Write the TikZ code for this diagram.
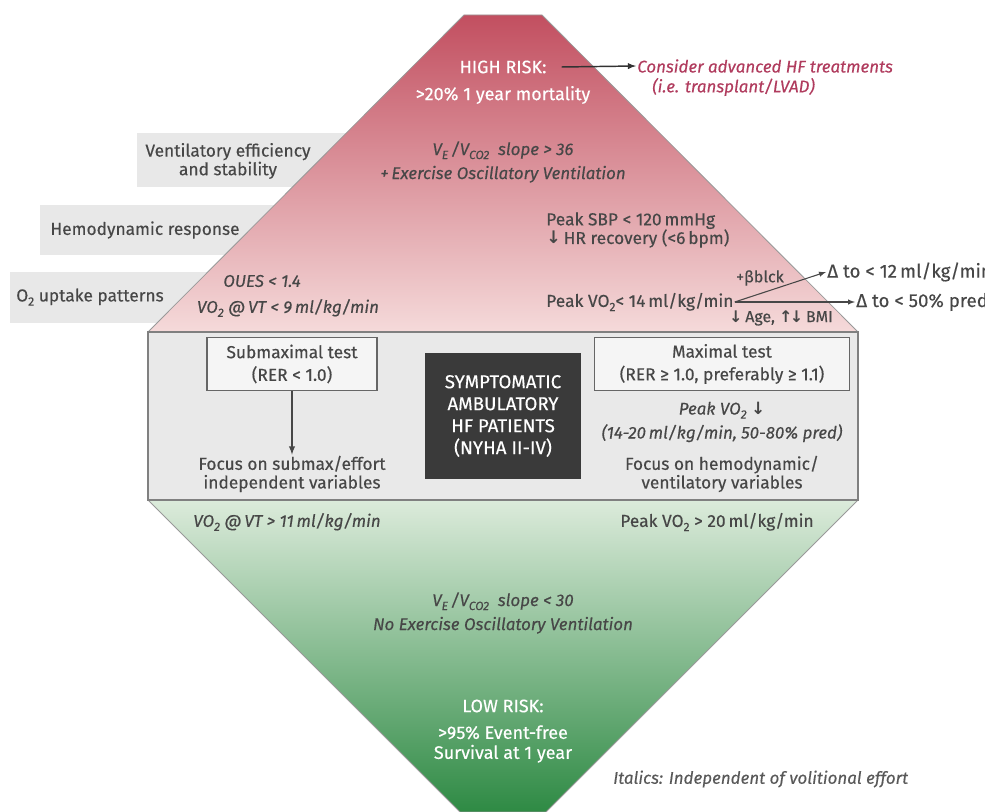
\documentclass[tikz,border=0pt]{standalone}
\usepackage{fontspec}
\setmainfont{Fira Sans}[UprightFeatures={FakeBold=0.35}, ItalicFeatures={FakeBold=0.35}]
\newfontfamily\arrfont{DejaVu Sans}
\usepackage{tikz}
\usetikzlibrary{arrows}

\definecolor{riskred}{HTML}{C24F60}
\definecolor{palered}{HTML}{F5DADA}
\definecolor{palegreen}{HTML}{DCEBDB}
\definecolor{riskgreen}{HTML}{2E8A44}
\definecolor{bandgray}{HTML}{E9E9E9}
\definecolor{labelgray}{HTML}{E8E8E8}
\definecolor{txtgray}{HTML}{474747}
\definecolor{darkbox}{HTML}{3A3A3A}
\definecolor{hfred}{HTML}{B03C5E}

\newcommand{\lo}[1]{\raisebox{-0.45ex}{\fontsize{9}{9}\selectfont #1}}
\newcommand{\dnarr}{{\arrfont\bfseries ↓}}
\newcommand{\uparr}{{\arrfont\bfseries ↑}}

\tikzset{
  txt/.style={inner sep=0.75pt, align=center, text=txtgray, font=\fontsize{13}{18}\selectfont},
  itxt/.style={txt, font=\fontsize{12.7}{18}\selectfont\itshape},
  wtxt/.style={inner sep=0.75pt, align=center, text=white, font=\fontsize{13.5}{20}\selectfont},
  testbox/.style={draw=black!60, line width=1pt, fill=black!4, minimum width=#1, minimum height=53*0.75pt, inner sep=0pt, align=center, text=txtgray, font=\fontsize{13}{17}\selectfont},
  arr/.style={-latex, line width=1.1pt, draw=txtgray}
}

\begin{document}
\begin{tikzpicture}[x=0.75pt,y=0.75pt,yscale=-1,xscale=1]
\useasboundingbox (0,0) rectangle (985,812);

%Grey label strips (behind the triangle)
\fill[labelgray] (137,133) rectangle (380,187);
\fill[labelgray] (40,205) rectangle (330,255);
\fill[labelgray] (10,272) rectangle (260,323);

%High risk trapezoid
\path[draw=black!40, line width=0.6pt, top color=riskred, bottom color=palered] (464,15) -- (542,15) -- (858,332) -- (148,332) -- cycle;
%Low risk trapezoid
\path[draw=black!40, line width=0.6pt, top color=palegreen, bottom color=riskgreen] (148,500) -- (858,500) -- (546,812) -- (460,812) -- cycle;
%Middle band
\draw[draw=black!50, line width=1pt, fill=bandgray] (148,332) rectangle (858,500);

% Label texts
\node[txt] (lblvent) at (228,161) {Ventilatory efficiency\\[-4pt]and stability};
\node[txt] (lblhemo) at (145,230) {Hemodynamic response};
\node[txt] (lbloxy) at (90,297) {O\lo{2} uptake patterns};

% High risk
\node[wtxt] (hrtitle) at (503,67) {HIGH RISK:};
\node[wtxt] (hrsub) at (503,95) {>20\% 1 year mortality};
\node[itxt, text=hfred, anchor=west] (treat) at (636,66) {Consider advanced HF treatments};
\node[itxt, text=hfred, anchor=west] (treatex) at (651,87) {(i.e. transplant/LVAD)};
\draw[arr, draw=black!80] (hrtitle.east) ++(14,0) coordinate (hrarr) -- (treat.west);

\node[itxt] (veslope) at (503,162) {V\lo{E}\,/V\lo{CO2}\ \ slope > 36\\+\,Exercise Oscillatory Ventilation};
\node[txt, anchor=west, align=left] (sbp) at (545,230) {Peak SBP < 120\,mmHg\\[-4pt]\dnarr\,HR recovery (<6\,bpm)};
\node[itxt] (oues) at (262,281) {OUES < 1.4};
\node[itxt] (vovt) at (288,308) {VO\lo{2} @\,VT < 9\,ml/kg/min};

\node[txt, anchor=west] (pkvo) at (545,302) {Peak VO\lo{2}< 14\,ml/kg/min};
\node[txt, font=\fontsize{12}{14}\selectfont] (bblk) at (760,278) {+βblck};
\node[txt, font=\fontsize{12}{14}\selectfont] (agebmi) at (781,318) {\dnarr\,Age, \uparr\kern-2pt\dnarr\,BMI};
\node[txt, anchor=west, font=\fontsize{14}{16}\selectfont] (dtwelve) at (826,272) {Δ to < 12\,ml/kg/min};
\node[txt, anchor=west, font=\fontsize{14}{16}\selectfont] (dfifty) at (855,302) {Δ to < 50\% pred};
\draw[arr, line width=0.8pt] (pkvo.east) -- (dtwelve.west);
\draw[arr, line width=0.8pt] (pkvo.east) -- (dfifty.west);

% Middle band
\node[testbox=170*0.75pt] (submax) at (292,364) {Submaximal test\\(RER < 1.0)};
\node[txt] (subfocus) at (292,474) {Focus on submax/effort\\[-4pt]independent variables};
\draw[arr] (submax.south) -- (subfocus.north);

\node[fill=darkbox, minimum width=156*0.75pt, minimum height=126*0.75pt, text=white, align=center, font=\fontsize{14}{16.5}\selectfont] (patients) at (503,416) {SYMPTOMATIC\\AMBULATORY\\HF PATIENTS\\(NYHA II-IV)};

\node[testbox=255*0.75pt] (maxtest) at (722,364) {Maximal test\\(RER ≥ 1.0, preferably ≥ 1.1)};
\node[itxt] (maxvo) at (722,422) {Peak VO\lo{2} \dnarr\\(14-20\,ml/kg/min, 50-80\% pred)};
\node[txt] (maxfocus) at (722,474) {Focus on hemodynamic/\\[-4pt]ventilatory variables};

% Low risk
\node[itxt] (vovtlow) at (287,522) {VO\lo{2} @\,VT > 11\,ml/kg/min};
\node[txt] (pkvolow) at (717,522) {Peak VO\lo{2} > 20\,ml/kg/min};
\node[itxt] (veslopelow) at (503,613) {V\lo{E}\,/V\lo{CO2}\ \ slope < 30\\No Exercise Oscillatory Ventilation};
\node[wtxt] (lrtitle) at (503,706) {LOW RISK:};
\node[wtxt, font=\fontsize{13.5}{15}\selectfont] (lrsub) at (503,744) {>95\% Event-free\\Survival at 1 year};

\node[itxt, anchor=west, text=black!65] (note) at (612,779) {Italics: Independent of volitional effort};

\end{tikzpicture}
\end{document}
